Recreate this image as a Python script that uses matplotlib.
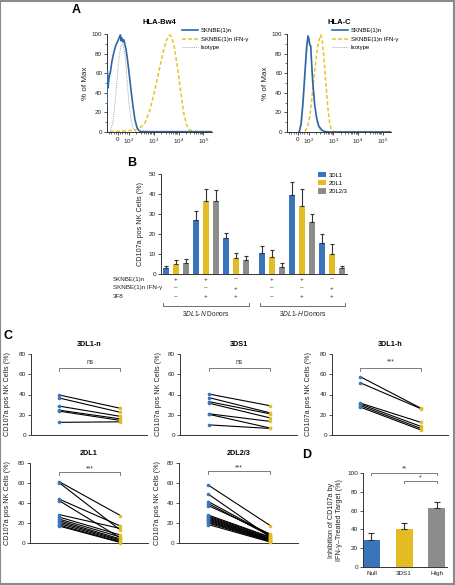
import numpy as np
import matplotlib
matplotlib.use('Agg')
import matplotlib.pyplot as plt
from matplotlib.transforms import blended_transform_factory
from matplotlib.patches import Rectangle, Patch
from matplotlib.lines import Line2D

plt.rcParams['font.family'] = ['Liberation Sans', 'DejaVu Sans']
plt.rcParams['mathtext.fontset'] = 'custom'
plt.rcParams['mathtext.rm'] = 'Liberation Sans'
plt.rcParams['mathtext.it'] = 'Liberation Sans:italic'
plt.rcParams['mathtext.bf'] = 'Liberation Sans:bold'

# ---------------- DATA ----------------
# Panel A: flow histograms (% of max vs fluorescence)
bw4_blue_x = [-100, -97, -91, -82, -68, -55, -36, -18, 0, 14, 23, 30, 36, 45, 55, 64, 73, 86,
              100, 120, 145, 174, 209, 251, 302, 690, 11000, 210000]
bw4_blue_y = [28, 62, 45, 55, 62, 72, 82, 89, 93, 97, 99, 93, 96, 92, 94, 89, 85, 75,
              62, 44, 27, 13, 5, 1.5, 0.5, 0.3, 0.3, 0.3]
bw4_ifn_x = [-73, 64, 174, 275, 437, 692, 1096, 1738, 2512, 3311, 4365, 5248, 6918, 9120,
             12000, 15850, 20900, 27500, 43650, 210000]
bw4_ifn_y = [0.5, 1, 2, 4, 9, 22, 42, 66, 84, 94, 99, 97, 85, 65, 42, 20, 7, 2, 0.5, 0.5]
bw4_iso_x = [-73, -45, -18, 9, 27, 45, 64, 82, 100, 120, 145, 174, 209]
bw4_iso_y = [0, 10, 40, 75, 88, 90, 80, 55, 30, 14, 5, 1, 0]

hlac_blue_x = [12, 29, 47, 65, 82, 94, 100, 110, 121, 132, 145, 175, 212, 257, 339, 447, 718, 230000]
hlac_blue_y = [0, 8, 30, 60, 88, 98, 96, 89, 88, 70, 52, 28, 14, 6, 2, 0.5, 0, 0]
hlac_ifn_x = [65, 91, 110, 132, 158, 193, 234, 282, 310, 355, 407, 490, 600, 718, 870, 1150, 230000]
hlac_ifn_y = [0.5, 6, 15, 32, 52, 72, 88, 97, 99, 93, 78, 52, 25, 8, 1.5, 0.3, 0.3]
hlac_iso_x = [20, 38, 56, 73, 91, 105, 121, 145, 175, 212, 282, 372]
hlac_iso_y = [0, 10, 35, 68, 90, 96, 85, 55, 28, 10, 2, 0]

a_labels = ['SKNBE(1)n', 'SKNBE(1)n IFN-γ', 'Isotype']

# Panel B: CD107a+ NK cells (%), mean and upper error
b_series = ['3DL1', '2DL1', '2DL2/3']
b_3dl1 = [3.2, 27.2, 18.1, 10.5, 39.6, 15.7]
b_3dl1_err = [0.6, 4.2, 2.3, 3.4, 6.2, 4.5]
b_2dl1 = [5.0, 36.3, 8.2, 8.5, 34.1, 10.0]
b_2dl1_err = [2.2, 6.2, 2.2, 3.5, 8.4, 5.1]
b_2dl23 = [5.5, 36.3, 7.0, 3.7, 26.1, 2.8]
b_2dl23_err = [2.2, 5.7, 2.2, 1.7, 4.0, 1.0]
row_sknbe = ['+', '+', '–', '+', '+', '–']
row_ifn = ['–', '–', '+', '–', '–', '+']
row_3f8 = ['–', '+', '+', '–', '+', '+']
row_names = ['SKNBE(1)n', 'SKNBE(1)n IFN-γ', '3F8']
donor_groups = [r'$\mathit{3DL1}$-$\mathit{N}$ Donors', r'$\mathit{3DL1}$-$\mathit{H}$ Donors']

# Panel C: paired CD107a+ (%) untreated vs IFN-γ treated target
c_3dl1n_pre = [39.5, 36.5, 28.5, 24.5, 23.5, 12.5]
c_3dl1n_post = [26.5, 22.5, 18.5, 16.0, 14.5, 13.0]
c_3ds1_pre = [40.5, 37.0, 33.0, 31.5, 21.0, 20.5, 10.0]
c_3ds1_post = [29.0, 22.0, 21.0, 17.0, 13.5, 7.0, 6.5]
c_3dl1h_pre = [57.5, 51.5, 31.5, 30.5, 29.0, 27.5]
c_3dl1h_post = [26.5, 26.0, 12.5, 8.5, 6.5, 5.0]
c_2dl1_pre = [61.5, 60.5, 44.0, 42.5, 28.5, 26.0, 24.0, 22.5, 21.0, 19.5, 18.0, 17.0]
c_2dl1_post = [27.5, 13.0, 17.0, 5.0, 14.5, 8.0, 6.0, 4.0, 3.0, 2.0, 1.0, 0.5]
c_2dl23_pre = [58.0, 49.0, 41.5, 39.5, 37.5, 28.0, 27.0, 26.0, 25.0, 24.0, 23.0, 22.0, 21.0, 20.0, 18.5]
c_2dl23_post = [17.5, 6.0, 8.0, 7.0, 9.0, 6.0, 5.5, 4.5, 4.0, 3.5, 3.0, 2.5, 2.0, 1.5, 1.0]
c_titles = ['3DL1-n', '3DS1', '3DL1-h', '2DL1', '2DL2/3']
c_sig = ['ns', 'ns', '***', '***', '***']

# Panel D
d_groups = ['Null', '3DS1', 'High']
d_vals = [29.0, 40.5, 62.8]
d_err = [7.0, 6.3, 6.2]

# ---------------- STYLE ----------------
BLUE = '#3a74bb'
YELLOW = '#e2bc22'
GRAY = '#8c8c8c'
LBLUE = '#2f67a6'
LYELLOW = '#e8c229'
AXC = '#333333'

W, H = 455, 585
fig = plt.figure(figsize=(W / 100, H / 100), dpi=100)


def axpx(l, t, r, b):
    return fig.add_axes([l / W, 1 - b / H, (r - l) / W, (b - t) / H])


def ftext(x, y, s, **kw):
    fig.text(x / W, 1 - y / H, s, **kw)


def style(ax, fs=4.6):
    for s in ['top', 'right']:
        ax.spines[s].set_visible(False)
    for s in ['left', 'bottom']:
        ax.spines[s].set_linewidth(0.7)
        ax.spines[s].set_color(AXC)
    ax.tick_params(labelsize=fs, length=2, width=0.6, pad=1.5, colors=AXC, labelcolor='#222')
    ax.tick_params(which='minor', length=1.2, width=0.5, colors=AXC)


def ylabel_px(ax, text, xcenter, l, r, fs=5, half=3.5):
    # label anchor is the right edge of rotated text; shift by half its thickness
    ax.set_ylabel(text, fontsize=fs, color='#222')
    ax.yaxis.set_label_coords((xcenter + half - l) / (r - l), 0.5)


# ---------------- PANEL A ----------------
def hist_panel(l, r, title, curves, leg_x, ylab_x):
    ax = axpx(l, 34, r, 132)
    ax.set_xscale('symlog', linthresh=100, linscale=0.396)
    ax.set_xlim(-100, 2.2e5)
    ax.set_ylim(0, 100)
    for (x, y, kw) in curves:
        ax.plot(x, y, **kw)
    ax.set_xticks([0, 1e2, 1e3, 1e4, 1e5])
    ax.set_xticklabels(['0', '$10^2$', '$10^3$', '$10^4$', '$10^5$'])
    minors = [-80, -60, -40, -20, 20, 40, 60, 80] + [k * 10 ** d for d in (2, 3, 4) for k in range(2, 10)]
    ax.set_xticks(minors, minor=True)
    ax.set_yticks([0, 20, 40, 60, 80, 100])
    ax.set_yticks([10, 30, 50, 70, 90], minor=True)
    style(ax, 4.5)
    ax.set_title(title, fontsize=5.5, fontweight='bold', pad=7)
    ylabel_px(ax, '% of Max', ylab_x, l, r, fs=5.8, half=4)
    handles = [c[2] for c in curves]
    hl = [Line2D([], [], **{k: v for k, v in h.items() if k != 'zorder'}) for h in handles]
    ax.legend(hl, a_labels, loc='upper left', bbox_to_anchor=(leg_x / W, 1 - 28 / H),
              bbox_transform=fig.transFigure, frameon=False, fontsize=4.3,
              handlelength=2.6, handletextpad=0.5, labelspacing=0.55, borderaxespad=0, borderpad=0)
    return ax


blue_kw = dict(color=LBLUE, lw=1.2, ls='-', zorder=3)
ifn_kw = dict(color=LYELLOW, lw=1.1, ls=(0, (2.5, 1.5)), zorder=2)
iso_kw = dict(color='#a8a8a8', lw=0.7, ls=(0, (1, 1)), zorder=2)

hist_panel(107, 212, 'HLA-Bw4',
           [(bw4_blue_x, bw4_blue_y, blue_kw), (bw4_ifn_x, bw4_ifn_y, ifn_kw), (bw4_iso_x, bw4_iso_y, iso_kw)],
           182, 85)
hist_panel(287, 391, 'HLA-C',
           [(hlac_blue_x, hlac_blue_y, blue_kw), (hlac_ifn_x, hlac_ifn_y, ifn_kw), (hlac_iso_x, hlac_iso_y, iso_kw)],
           332, 265)

# ---------------- PANEL B ----------------
axb = axpx(161, 174, 347, 274)
pos = np.array([0, 1, 2, 3.2, 4.2, 5.2])
off = 1 / 3
bw = 0.2
for i, (vals, errs, col) in enumerate([(b_3dl1, b_3dl1_err, BLUE), (b_2dl1, b_2dl1_err, YELLOW),
                                       (b_2dl23, b_2dl23_err, GRAY)]):
    axb.bar(pos + (i - 1) * off, vals, width=bw, color=col, label=b_series[i],
            yerr=[np.zeros(len(vals)), errs],
            error_kw=dict(ecolor='#333', elinewidth=0.8, capsize=1.6, capthick=0.8))
axb.set_xlim(-0.5, 5.7)
axb.set_ylim(0, 50)
axb.set_xticks([])
axb.set_yticks([0, 10, 20, 30, 40, 50])
style(axb, 4.6)
ylabel_px(axb, 'CD107a pos NK Cells (%)', 140, 161, 347, fs=5.2)
axb.legend(loc='upper left', bbox_to_anchor=(318 / W, 1 - 172 / H), bbox_transform=fig.transFigure,
           frameon=False, fontsize=4.2, handlelength=1.3, handleheight=1.0, handletextpad=0.5,
           labelspacing=0.45, borderaxespad=0, borderpad=0)
tb = blended_transform_factory(axb.transData, fig.transFigure)
for row, ypx, name in zip([row_sknbe, row_ifn, row_3f8], [279, 288, 297], row_names):
    ftext(113, ypx, name, fontsize=4.5, ha='left', va='center', color='#222')
    for p, s in zip(pos, row):
        axb.text(p, 1 - ypx / H, s, transform=tb, fontsize=4.6, ha='center', va='center', color='#222')
for (x0, x1), lab in zip([(-0.43, 2.43), (2.8, 5.63)], donor_groups):
    yb, yt = 1 - 306 / H, 1 - 303 / H
    axb.plot([x0, x0, x1, x1], [yt, yb, yb, yt], transform=tb, color='#555', lw=0.6, clip_on=False)
    axb.text((x0 + x1) / 2, 1 - 313 / H, lab, transform=tb, fontsize=4.8, ha='center', va='center', color='#222')


# ---------------- PANEL C ----------------
def pair_panel(l, t, r, b, title, pre, post, sig, sig_y, text_y, ylab_x):
    ax = axpx(l, t, r, b)
    ax.set_xlim(-0.47, 1.45)
    ax.set_ylim(0, 80)
    for a, c in zip(pre, post):
        ax.plot([0, 1], [a, c], color='k', lw=0.8, zorder=2)
    ax.plot([0] * len(pre), pre, 'o', color=BLUE, ms=2.6, mew=0, zorder=3, clip_on=False)
    ax.plot([1] * len(post), post, 'o', color=YELLOW, ms=2.6, mew=0, zorder=3, clip_on=False)
    ax.plot([0, 0, 1, 1], [sig_y - 3, sig_y, sig_y, sig_y - 3], color='#666', lw=0.6)
    ax.text(0.5, text_y, sig, ha='center', va='center', fontsize=4.8, color='#333')
    ax.set_xticks([])
    ax.set_yticks([0, 20, 40, 60, 80])
    style(ax, 4.6)
    ax.set_title(title, fontsize=5.2, fontweight='bold', pad=6)
    ylabel_px(ax, 'CD107a pos NK Cells (%)', ylab_x, l, r, fs=5.2)
    return ax


pair_panel(31, 354, 147, 435, c_titles[0], c_3dl1n_pre, c_3dl1n_post, c_sig[0], 66.5, 72, 7.5)
pair_panel(180, 354, 297, 435, c_titles[1], c_3ds1_pre, c_3ds1_post, c_sig[1], 66.5, 72, 158)
pair_panel(332, 354, 448, 435, c_titles[2], c_3dl1h_pre, c_3dl1h_post, c_sig[2], 66.5, 72, 309)
pair_panel(30, 463, 148, 543, c_titles[3], c_2dl1_pre, c_2dl1_post, c_sig[3], 71, 74.5, 7.5)
pair_panel(179, 463, 298, 543, c_titles[4], c_2dl23_pre, c_2dl23_post, c_sig[4], 72, 75.5, 157.5)

# ---------------- PANEL D ----------------
axd = axpx(363, 473, 447, 567)
axd.bar(range(3), d_vals, width=0.52, color=[BLUE, YELLOW, GRAY],
        yerr=[[0] * 3, d_err], error_kw=dict(ecolor='#333', elinewidth=0.8, capsize=2, capthick=0.8))
axd.set_xlim(-0.26, 2.31)
axd.set_ylim(0, 100)
axd.set_xticks(range(3))
axd.set_xticklabels(d_groups)
axd.set_yticks([0, 20, 40, 60, 80, 100])
style(axd, 4.6)
axd.tick_params(axis='x', length=0, pad=3)
axd.set_ylabel('Inhibition of CD107a by\nIFN-γ–Treated Target (%)', fontsize=5.2, color='#222',
               linespacing=1.2)
axd.yaxis.set_label_coords((343 - 363) / 84, 0.5)
for (x0, x1), s, y, ty in [((0, 2), '**', 100, 104.5), ((1, 2), '*', 91, 95)]:
    axd.plot([x0, x0, x1, x1], [y - 2, y, y, y - 2], color='#666', lw=0.6, clip_on=False)
    axd.text((x0 + x1) / 2, ty, s, ha='center', va='center', fontsize=4.8, color='#333')

# ---------------- LETTERS & BORDER ----------------
for x, y, s in [(76, 10, 'A'), (132, 163, 'B'), (8, 336, 'C'), (307, 455, 'D')]:
    ftext(x, y, s, fontsize=9, fontweight='bold', ha='center', va='center')

fig.patches.append(Rectangle((0.001, 0.002), 0.996, 0.996, transform=fig.transFigure, fill=False,
                             edgecolor='#8a8a8a', lw=1.5))

fig.savefig('out.png', dpi=100)
